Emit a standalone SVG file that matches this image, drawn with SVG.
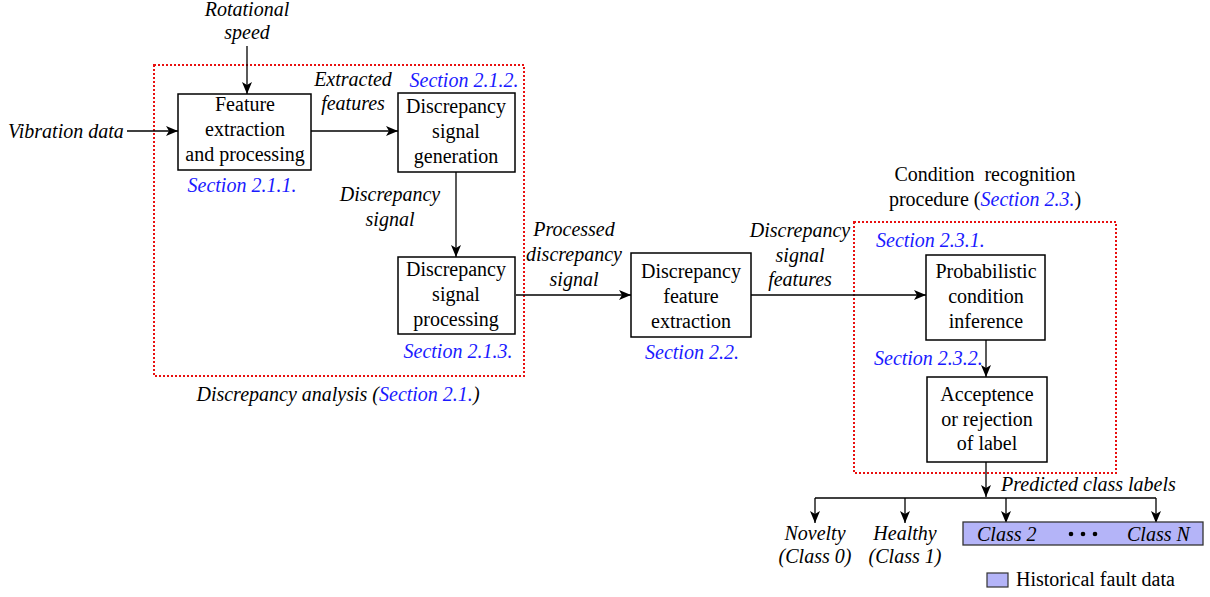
<svg xmlns="http://www.w3.org/2000/svg" width="1210" height="597" viewBox="0 0 1210 597" font-family="'Liberation Serif', 'Times New Roman', serif">
<defs>
<marker id="ah" markerWidth="12" markerHeight="10" refX="12" refY="5" orient="auto" markerUnits="userSpaceOnUse">
<path d="M0,0 L12,5 L0,10 L3,5 Z" fill="#000"/>
</marker>
<style>
text{font-family:'Liberation Serif','Times New Roman',serif;font-size:20px;fill:#000}
.c{text-anchor:middle}
.i{font-style:italic}
.b{fill:#1a1aff;font-style:italic}
.box{fill:#fff;stroke:#000;stroke-width:1.5}
.grp{fill:none;stroke:#e81010;stroke-width:2;stroke-dasharray:2,2}
.ln{fill:none;stroke:#000;stroke-width:1.3}
.ar{fill:none;stroke:#000;stroke-width:1.3;marker-end:url(#ah)}
</style>
</defs>
<rect width="1210" height="597" fill="#fff"/>
<g id="groups">
<rect class="grp" x="154" y="65" width="370" height="311"/>
<rect class="grp" x="854" y="222" width="262" height="251"/>
</g>
<g id="connectors">
<line class="ar" x1="247" y1="46" x2="247" y2="94"/>
<line class="ar" x1="127" y1="131" x2="178" y2="131"/>
<line class="ar" x1="311" y1="131" x2="398" y2="131"/>
<line class="ar" x1="456" y1="172" x2="456" y2="257"/>
<line class="ar" x1="516" y1="295" x2="631" y2="295"/>
<line class="ar" x1="751" y1="295" x2="926" y2="295"/>
<line class="ar" x1="986" y1="340" x2="986" y2="377"/>
<line class="ar" x1="986" y1="462" x2="986" y2="497"/>
<polyline class="ln" points="815,498 1156,498"/>
<line class="ar" x1="815" y1="498" x2="815" y2="523"/>
<line class="ar" x1="905" y1="498" x2="905" y2="523"/>
<line class="ar" x1="1006" y1="498" x2="1006" y2="523"/>
<line class="ar" x1="1156" y1="498" x2="1156" y2="523"/>
</g>
<g id="n_feature">
<rect class="box" x="178" y="94" width="133" height="76"/>
<text class="c" x="245" y="111">Feature</text>
<text class="c" x="245" y="136">extraction</text>
<text class="c" x="245" y="161">and processing</text>
</g>
<g id="n_gen">
<rect class="box" x="398" y="93" width="117" height="79"/>
<text class="c" x="456" y="113">Discrepancy</text>
<text class="c" x="456" y="138">signal</text>
<text class="c" x="456" y="163">generation</text>
</g>
<g id="n_proc">
<rect class="box" x="398" y="257" width="117" height="77"/>
<text class="c" x="456" y="276">Discrepancy</text>
<text class="c" x="456" y="301">signal</text>
<text class="c" x="456" y="326">processing</text>
</g>
<g id="n_featext">
<rect class="box" x="631" y="253" width="120" height="84"/>
<text class="c" x="691" y="278">Discrepancy</text>
<text class="c" x="691" y="303">feature</text>
<text class="c" x="691" y="328">extraction</text>
</g>
<g id="n_prob">
<rect class="box" x="926" y="255" width="119" height="85"/>
<text class="c" x="986" y="278">Probabilistic</text>
<text class="c" x="986" y="303">condition</text>
<text class="c" x="986" y="328">inference</text>
</g>
<g id="n_accept">
<rect class="box" x="927" y="377" width="120" height="85"/>
<text class="c" x="987" y="401">Acceptence</text>
<text class="c" x="987" y="426">or rejection</text>
<text class="c" x="987" y="450">of label</text>
</g>
<g id="n_classes">
<rect x="963" y="522" width="240" height="23" fill="#b4b4f8" stroke="#333" stroke-width="1.3"/>
<text class="i" x="977" y="541">Class 2</text>
<circle cx="1071" cy="534" r="2.3" fill="#000"/>
<circle cx="1083" cy="534" r="2.3" fill="#000"/>
<circle cx="1095" cy="534" r="2.3" fill="#000"/>
<text class="i" x="1127" y="541">Class N</text>
</g>
<g id="n_novelty">
<text class="c i" x="815" y="540">Novelty</text>
<text class="c i" x="815" y="563">(Class 0)</text>
</g>
<g id="n_healthy">
<text class="c i" x="905" y="540">Healthy</text>
<text class="c i" x="905" y="563">(Class 1)</text>
</g>
<g id="legend">
<rect x="987" y="573" width="21" height="14" fill="#b4b4f8" stroke="#333" stroke-width="1.2"/>
<text x="1016" y="586">Historical fault data</text>
</g>
<g id="labels">
<text class="c i" x="247" y="16">Rotational</text>
<text class="c i" x="247" y="39">speed</text>
<text class="i" x="8" y="138">Vibration data</text>
<text class="c b" x="242" y="192">Section 2.1.1.</text>
<text class="c i" x="353" y="86">Extracted</text>
<text class="c i" x="353" y="110">features</text>
<text class="c b" x="464" y="87">Section 2.1.2.</text>
<text class="c i" x="390" y="201">Discrepancy</text>
<text class="c i" x="390" y="226">signal</text>
<text class="c b" x="458" y="358">Section 2.1.3.</text>
<text class="c" x="338" y="401"><tspan class="i">Discrepancy analysis (</tspan><tspan class="b">Section 2.1.</tspan><tspan class="i">)</tspan></text>
<text class="c i" x="574" y="236">Processed</text>
<text class="c i" x="574" y="261">discrepancy</text>
<text class="c i" x="574" y="286">signal</text>
<text class="c b" x="692" y="359">Section 2.2.</text>
<text class="c i" x="800" y="237">Discrepancy</text>
<text class="c i" x="800" y="262">signal</text>
<text class="c i" x="800" y="286">features</text>
<text class="c" x="985" y="181" word-spacing="5">Condition recognition</text>
<text class="c" x="985" y="206">procedure (<tspan class="b">Section 2.3.</tspan>)</text>
<text class="b" x="876" y="247">Section 2.3.1.</text>
<text class="b" x="874" y="365">Section 2.3.2.</text>
<text class="i" x="1001" y="491">Predicted class labels</text>
</g>
</svg>
